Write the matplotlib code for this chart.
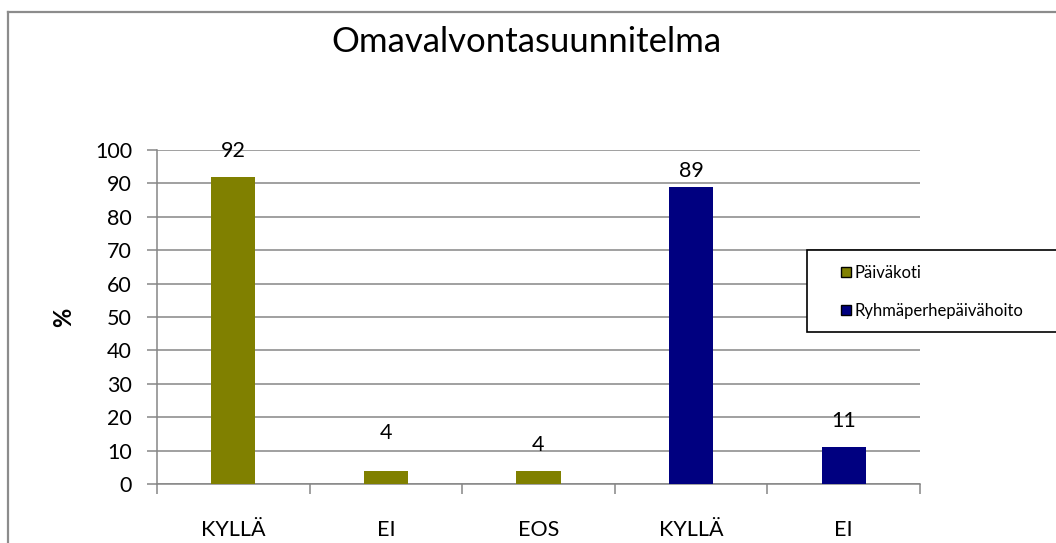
import matplotlib
matplotlib.use("Agg")
import matplotlib.pyplot as plt
from matplotlib.patches import Rectangle
from matplotlib.lines import Line2D

categories = ["KYLLÄ", "EI", "EOS", "KYLLÄ", "EI"]
paivakoti = [92, 4, 4, None, None]
ryhma = [None, None, None, 89, 11]
series_names = ["Päiväkoti", "Ryhmäperhepäivähoito"]
colors = ["#808000", "#000080"]
yticks = list(range(0, 101, 10))
label_offsets = [11, 20, 11, 4, 12]  # points above bar top (style)

plt.rcParams['font.family'] = ['Lato', 'DejaVu Sans']

W, H = 1056, 543
fig = plt.figure(figsize=(W / 100, H / 100), dpi=100)
ax = fig.add_axes([157 / W, 1 - 484 / H, (920 - 157) / W, (484 - 150) / H])

xs = [i + 0.5 for i in range(len(categories))]
bw = 0.29
for vals, c in zip([paivakoti, ryhma], colors):
    for x, v in zip(xs, vals):
        if v is None:
            continue
        ax.bar(x, v, width=bw, color=c, zorder=3)

allvals = [p if p is not None else r for p, r in zip(paivakoti, ryhma)]
for x, v, off in zip(xs, allvals, label_offsets):
    ax.annotate(str(v), (x, v), xytext=(0, off), textcoords="offset points",
                ha="center", va="bottom", fontsize=15.5, color="black", zorder=4)

ax.set_xlim(0, len(categories))
ax.set_ylim(0, 100)
ax.set_yticks(yticks)
ax.set_yticklabels([str(t) for t in yticks], fontsize=15.5)
ax.yaxis.grid(True, color="#868686", linewidth=1.1, zorder=0)
ax.set_axisbelow(True)

ax.set_xticks(range(len(categories) + 1))
ax.set_xticklabels([])
ax.set_xticks(xs, minor=True)
ax.set_xticklabels(categories, minor=True, fontsize=15.5)
ax.tick_params(axis="x", which="minor", length=0, pad=26)
ax.tick_params(axis="x", which="major", length=7, color="#868686", width=1.1, direction="out")
ax.tick_params(axis="y", length=7, color="#868686", width=1.1, direction="out", pad=11)

for s in ["top", "right"]:
    ax.spines[s].set_visible(False)
for s in ["left", "bottom"]:
    ax.spines[s].set_color("#868686")
    ax.spines[s].set_linewidth(1.1)

ax.set_ylabel("%", fontsize=17, fontweight="bold", labelpad=14)

fig.text(526 / W, 1 - 42 / H, "Omavalvontasuunnitelma", ha="center", va="center", fontsize=25)

# legend box
fig.patches.append(Rectangle((807 / W, 1 - 332 / H), (W + 5 - 807) / W, 82 / H,
                             transform=fig.transFigure, facecolor="white",
                             edgecolor="black", linewidth=1.2, zorder=5))
handles = [Line2D([], [], marker="s", linestyle="none", markersize=7,
                  markerfacecolor=c, markeredgecolor="black", markeredgewidth=1.0)
           for c in colors]
leg = fig.legend(handles, series_names, loc="center left",
                 bbox_to_anchor=(834 / W, 1 - 292 / H), frameon=False,
                 fontsize=12, handlelength=0.6, handletextpad=0.25,
                 labelspacing=1.3, borderaxespad=0)
leg.set_zorder(6)

# chart border
fig.add_artist(Line2D([8 / W, 8 / W], [0, 1 - 12 / H], transform=fig.transFigure,
                      color="#8c8c8c", linewidth=1.6))
fig.add_artist(Line2D([8 / W, 1], [1 - 12 / H, 1 - 12 / H], transform=fig.transFigure,
                      color="#8c8c8c", linewidth=1.6))

fig.savefig("out.png", dpi=100)
